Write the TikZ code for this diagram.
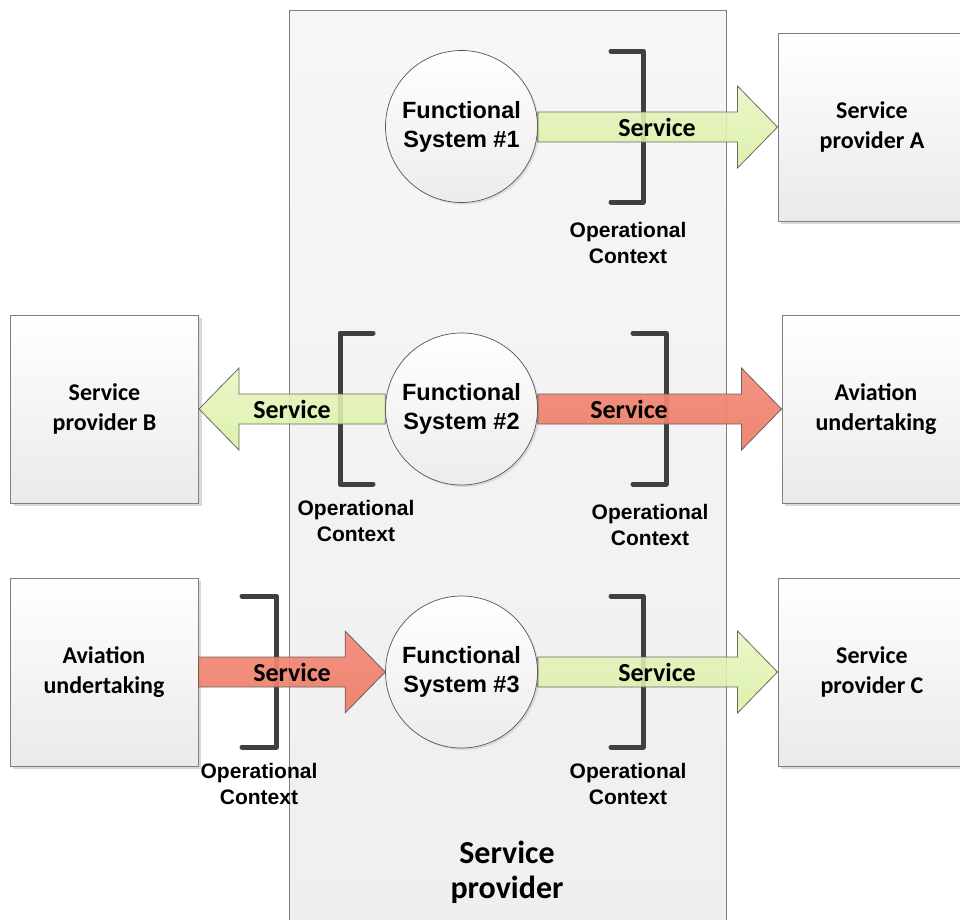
\documentclass[tikz,border=0pt]{standalone}
\usepackage{fontspec}
\setmainfont{Liberation Sans}
\newfontfamily\calib{Carlito}
\usetikzlibrary{shadows,calc}
\definecolor{boxline}{HTML}{7F7F7F}
\definecolor{boxbot}{HTML}{EAEAEA}
\definecolor{circline}{HTML}{555555}
\definecolor{circbot}{HTML}{ECECEC}
\definecolor{brk}{HTML}{3F3F3F}
\definecolor{arrline}{HTML}{5A5A5A}
\definecolor{grntop}{HTML}{E8F6C2}
\definecolor{grnbot}{HTML}{D8EFA0}
\definecolor{redtop}{HTML}{F28A76}
\definecolor{redbot}{HTML}{EE7C67}
\definecolor{conttop}{HTML}{F6F6F6}
\definecolor{contbot}{HTML}{EFEFEF}
\tikzset{
  box/.style={draw=boxline, line width=1pt, top color=white, bottom color=boxbot,
    minimum width=188pt, minimum height=188pt, inner sep=0pt, align=center,
    font=\calib\bfseries\fontsize{24}{30}\selectfont,
    drop shadow={shadow xshift=3pt, shadow yshift=-3pt, opacity=0.3, fill=gray}},
  fsys/.style={circle, draw=circline, line width=0.7pt, top color=white, bottom color=circbot,
    minimum size=152pt, inner sep=0pt, align=center,
    font=\bfseries\fontsize{23.5}{29}\selectfont,
    drop shadow={shadow xshift=2pt, shadow yshift=-2pt, opacity=0.2, fill=gray}},
  opctx/.style={align=center, inner sep=0pt, font=\bfseries\fontsize{21}{25.6}\selectfont},
  svc/.style={inner sep=0pt, font=\calib\bfseries\fontsize{26}{30}\selectfont},
  bracket/.style={draw=brk, line width=5pt, line cap=round, line join=round},
  container/.style={draw=boxline, line width=1pt, top color=conttop, bottom color=contbot},
  greenarrow/.style={draw=arrline, line width=0.8pt, top color=grntop, bottom color=grnbot,
    fill opacity=0.88, draw opacity=0.9},
  redarrow/.style={draw=arrline, line width=0.8pt, top color=redtop, bottom color=redbot,
    fill opacity=0.92, draw opacity=0.9},
}
\newcommand{\blockarrow}[4]{%
  \path[#3] let \p1=(#1), \p2=(#2), \p3=($(#2)+(#4,0)$) in
    (\x1,\y2+15pt) -- (\x3,\y2+15pt) -- (\x3,\y2+41pt) -- (\x2,\y2)
    -- (\x3,\y2-41pt) -- (\x3,\y2-15pt) -- (\x1,\y2-15pt) -- cycle;}
\begin{document}
\begin{tikzpicture}[x=1pt,y=-1pt]
\useasboundingbox (0,0) rectangle (960,919);
\clip (0,0) rectangle (960,919);
% container
\path[container] (289,10) rectangle (726,940);
\node[inner sep=0pt, align=center, font=\calib\bfseries\fontsize{32}{35}\selectfont] (splabel) at (507,872) {Service\\provider};
% outer boxes
\node[box] (spA) at (872,127) {Service\\provider A};
\node[box] (spB) at (104.5,409) {Service\\provider B};
\node[box] (au1) at (876,409) {Aviation\\undertaking};
\node[box] (au2) at (104,672) {Aviation\\undertaking};
\node[box] (spC) at (872,672) {Service\\provider C};
% brackets
\draw[bracket] (611,51) -- (643,51) -- (643,202) -- (611,202);
\draw[bracket] (373,333) -- (340,333) -- (340,484) -- (373,484);
\draw[bracket] (633,333) -- (666,333) -- (666,484) -- (633,484);
\draw[bracket] (242,596) -- (276,596) -- (276,747) -- (242,747);
\draw[bracket] (611,596) -- (643,596) -- (643,747) -- (611,747);
% functional systems
\node[fsys] (fs1) at (461.5,126.5) {Functional\\System \#1};
\node[fsys] (fs2) at (461.5,409) {Functional\\System \#2};
\node[fsys] (fs3) at (461.5,672) {Functional\\System \#3};
% arrows
\blockarrow{fs1.east}{spA.west}{greenarrow}{-40}
\blockarrow{fs2.west}{spB.east}{greenarrow}{40}
\blockarrow{fs2.east}{au1.west}{redarrow}{-40}
\blockarrow{au2.east}{fs3.west}{redarrow}{-40}
\blockarrow{fs3.east}{spC.west}{greenarrow}{-40}
% service labels
\node[svc] (sv1) at (657,127) {Service};
\node[svc] (sv2) at (292,409) {Service};
\node[svc] (sv3) at (629,409) {Service};
\node[svc] (sv4) at (292,672) {Service};
\node[svc] (sv5) at (657,672) {Service};
% operational context labels
\node[opctx] (oc1) at (628,243) {Operational\\Context};
\node[opctx] (oc2) at (356,521) {Operational\\Context};
\node[opctx] (oc3) at (650,525) {Operational\\Context};
\node[opctx] (oc4) at (259,784) {Operational\\Context};
\node[opctx] (oc5) at (628,784) {Operational\\Context};
\end{tikzpicture}
\end{document}
